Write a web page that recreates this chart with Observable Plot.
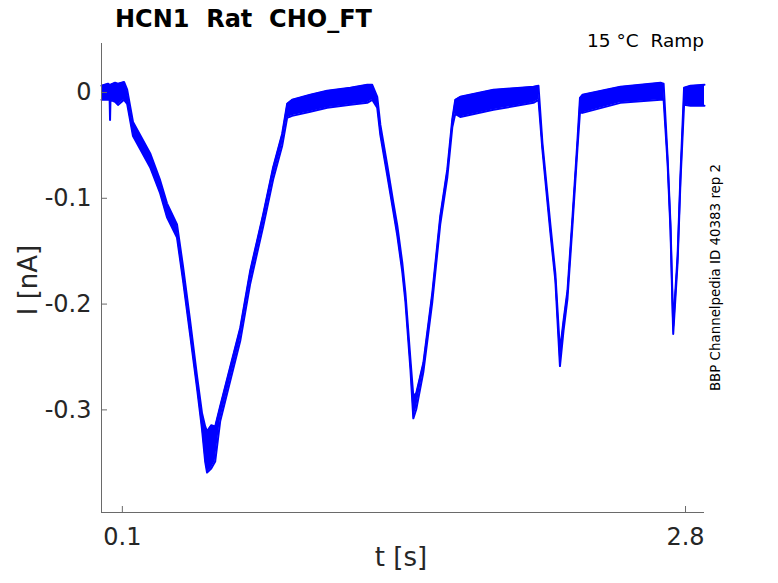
<!DOCTYPE html>
<html><head><meta charset="utf-8">
<script src="https://cdn.jsdelivr.net/npm/d3@7"></script>
<script src="https://cdn.jsdelivr.net/npm/@observablehq/plot@0.6"></script>
<style>body{margin:0;background:#fff} svg{display:block}</style>
</head><body><div id="chart"></div>
<script>
const title = "HCN1  Rat  CHO_FT";
const subtitle = "15 °C  Ramp";
const caption = "BBP Channelpedia ID 40383 rep 2";
const xLabel = "t [s]";
const yLabel = "I [nA]";
const xTicks = [0.1, 2.8];
const yTicks = [0, -0.1, -0.2, -0.3];
const xDomain = [0, 2.891];
const yDomain = [-0.397, 0.0463];

// time [s], upper and lower edge of the noisy current trace [nA]
const time = [0.000,0.031,0.039,0.041,0.043,0.065,0.079,0.108,0.123,0.151,0.233,0.281,0.314,0.362,0.391,0.425,0.458,0.482,0.497,0.506,0.526,0.545,0.569,0.617,0.665,0.713,0.775,0.823,0.866,0.890,0.914,1.001,1.082,1.193,1.274,1.298,1.322,1.337,1.370,1.399,1.418,1.442,1.457,1.481,1.495,1.509,1.543,1.586,1.624,1.658,1.682,1.696,1.720,1.879,2.071,2.095,2.114,2.152,2.176,2.198,2.215,2.234,2.258,2.282,2.294,2.306,2.488,2.680,2.695,2.714,2.728,2.741,2.762,2.776,2.793,2.824,2.891];
const upper = [0.0064,0.0083,0.0073,0.0073,0.0073,0.0092,0.0083,0.0100,0.0026,-0.0278,-0.0573,-0.0829,-0.1048,-0.1247,-0.1646,-0.2159,-0.2681,-0.3032,-0.3156,-0.3203,-0.3146,-0.3156,-0.2966,-0.2595,-0.2225,-0.1684,-0.1152,-0.0706,-0.0392,-0.0107,-0.0069,-0.0022,0.0016,0.0045,0.0073,0.0073,-0.0041,-0.0307,-0.0687,-0.1038,-0.1257,-0.1608,-0.1893,-0.2520,-0.2871,-0.2842,-0.2557,-0.1893,-0.1171,-0.0725,-0.0250,-0.0069,-0.0041,0.0026,0.0054,0.0064,-0.0478,-0.1247,-0.1712,-0.2443,-0.2159,-0.1874,-0.1180,-0.0449,-0.0050,-0.0022,0.0054,0.0092,0.0083,-0.0611,-0.1247,-0.2206,-0.1541,-0.0763,0.0045,0.0064,0.0073];
const lower = [-0.0069,-0.0069,-0.0069,-0.0259,-0.0069,-0.0088,-0.0117,-0.0069,-0.0107,-0.0411,-0.0706,-0.0952,-0.1180,-0.1371,-0.1779,-0.2292,-0.2795,-0.3184,-0.3488,-0.3593,-0.3555,-0.3488,-0.3108,-0.2728,-0.2349,-0.1807,-0.1266,-0.0820,-0.0506,-0.0240,-0.0221,-0.0183,-0.0145,-0.0117,-0.0098,-0.0069,-0.0145,-0.0402,-0.0782,-0.1123,-0.1351,-0.1693,-0.1978,-0.2614,-0.3080,-0.2994,-0.2643,-0.1978,-0.1247,-0.0801,-0.0326,-0.0202,-0.0231,-0.0164,-0.0098,-0.0069,-0.0544,-0.1323,-0.1779,-0.2586,-0.2254,-0.1950,-0.1257,-0.0525,-0.0183,-0.0193,-0.0098,-0.0069,-0.0069,-0.0668,-0.1304,-0.2282,-0.1608,-0.0829,-0.0117,-0.0126,-0.0126];

const rows = time.map((t, i) => ({t, hi: upper[i], lo: lower[i]}));

const W = 778, H = 583, mL = 101, mR = 74, mT = 43, mB = 71;
const blue = "#0000ff", axisGray = "#6a6a6a", ink = "#262626";
const font = "DejaVu Sans";

const chart = Plot.plot({
  width: W, height: H,
  marginLeft: mL, marginRight: mR, marginTop: mT, marginBottom: mB,
  style: {fontFamily: font, background: "#fff"},
  x: {domain: xDomain, axis: null},
  y: {domain: yDomain, axis: null},
  marks: [
    Plot.areaY(rows, {x: "t", y1: "lo", y2: "hi", fill: blue, curve: "linear"}),
    Plot.line(rows, {x: "t", y: "hi", stroke: blue, strokeWidth: 2}),
    Plot.line(rows, {x: "t", y: "lo", stroke: blue, strokeWidth: 2}),
    Plot.ruleX([xDomain[0]], {stroke: axisGray, strokeWidth: 1}),
    Plot.ruleY([yDomain[0]], {stroke: axisGray, strokeWidth: 1}),
    Plot.axisX({ticks: xTicks, tickSize: -6, tickPadding: 21, fontSize: 24,
      tickFormat: d => String(d), stroke: axisGray, fill: ink, label: null}),
    Plot.axisY({ticks: yTicks, tickSize: -6, tickPadding: 16, fontSize: 24,
      tickFormat: d => String(d), stroke: axisGray, fill: ink, label: null})
  ]
});

const svg = d3.select(chart);
svg.append("text").attr("x", 115).attr("y", 27).attr("text-anchor", "start")
  .attr("font-family", font).attr("font-weight", "bold").attr("font-size", 24)
  .attr("fill", "#000").style("white-space", "pre").text(title);
svg.append("text").attr("x", W - mR).attr("y", 47).attr("text-anchor", "end")
  .attr("font-family", font).attr("font-size", 18.5)
  .attr("fill", "#000").style("white-space", "pre").text(subtitle);
svg.append("text").attr("transform", `translate(${W - mR + 16},277.5) rotate(-90)`)
  .attr("text-anchor", "middle").attr("font-family", font).attr("font-size", 13.4)
  .attr("fill", "#000").text(caption);
svg.append("text").attr("transform", `translate(37,280) rotate(-90)`)
  .attr("text-anchor", "middle").attr("font-family", font).attr("font-size", 26)
  .attr("fill", ink).text(yLabel);
svg.append("text").attr("x", 401).attr("y", 566)
  .attr("text-anchor", "middle").attr("font-family", font).attr("font-size", 26)
  .attr("fill", ink).text(xLabel);

document.getElementById("chart").appendChild(chart);
</script>
</body></html>
